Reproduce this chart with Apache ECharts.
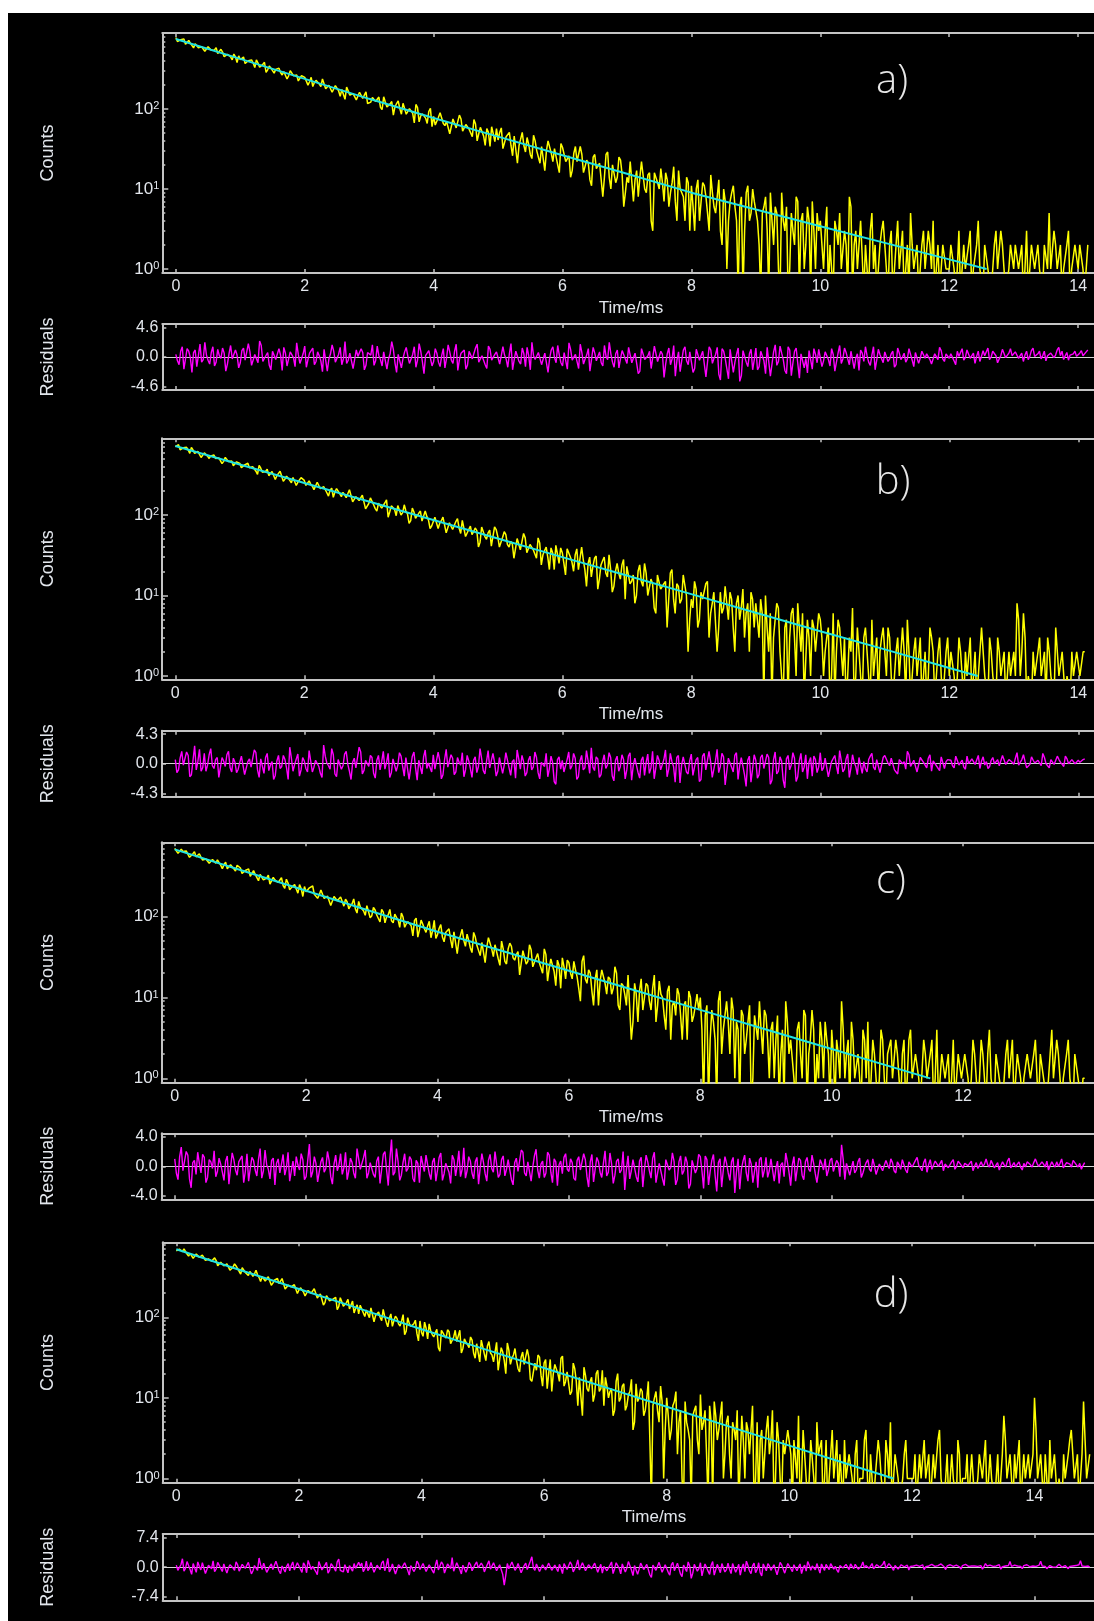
<!DOCTYPE html>
<html>
<head>
<meta charset="utf-8">
<title>Luminescence decays and fit residuals</title>
<script src="https://cdn.jsdelivr.net/npm/echarts@6/dist/echarts.min.js"></script>
<style>
  html, body { margin: 0; padding: 0; background: #ffffff; }
  #chart { width: 1094px; height: 1621px; }
</style>
</head>
<body>
<div id="chart"></div>
<script>
// ---- data ---------------------------------------------------------------
// bin width of the decay histograms (ms); point i sits at t = i * BIN_MS
const BIN_MS = 0.025;

// photon counts per bin (integers, 0 = empty bin); one row = 1 ms
const countsA = [
  783,698,707,735,716,753,646,655,721,665,637,580,655,656,582,595,599,633,527,546,599,567,542,533,548,585,494,467,558,515,450,466,483,491,448,411,486,448,381,462,
  415,435,446,371,361,401,400,411,375,329,410,376,333,342,361,384,287,309,345,324,307,281,313,325,324,286,266,294,291,237,260,302,302,261,255,267,224,227,262,273,
  249,258,199,219,249,191,214,228,225,206,190,237,239,179,185,198,192,162,165,196,195,169,144,175,174,132,188,186,149,146,156,162,130,135,162,168,136,136,164,117,
  120,122,139,147,124,121,141,105,98,142,122,106,103,116,124,84,106,117,126,101,86,118,101,86,89,101,103,88,67,114,104,69,82,87,90,77,66,93,102,60,
  81,63,60,79,90,88,66,62,70,73,49,47,75,71,58,60,84,75,53,51,64,62,56,54,45,74,65,40,49,59,58,46,35,57,51,34,60,49,39,57,
  41,51,58,32,32,45,44,51,35,26,46,44,21,35,42,51,35,29,44,36,27,24,47,40,30,29,21,34,35,17,30,40,38,28,22,32,31,20,16,37,
  33,34,22,22,26,14,17,28,34,22,21,34,27,16,16,23,21,13,11,25,27,18,19,21,22,8,14,27,29,14,10,20,19,12,14,25,23,15,6,9,
  14,12,22,21,7,13,17,8,14,22,22,10,9,15,16,4,3,16,16,12,10,18,12,7,16,13,6,9,12,19,7,4,17,10,9,8,4,14,12,3,
  11,6,3,10,13,4,7,12,11,8,5,3,15,9,6,5,8,13,3,2,10,7,1,4,7,9,11,6,4,0,6,8,0,3,9,11,4,5,10,7,
  7,4,2,0,5,6,8,3,0,9,4,2,6,5,1,0,9,4,3,6,0,1,5,3,2,8,7,0,4,5,1,2,6,4,0,7,3,1,5,3,
  4,2,1,3,6,0,2,1,0,4,3,2,5,1,1,3,2,0,8,6,0,2,3,1,1,4,4,0,2,2,0,3,5,1,2,0,1,2,3,4,
  2,1,0,2,3,0,1,2,4,1,1,3,0,1,2,0,5,2,1,1,2,0,0,2,3,1,1,3,2,1,4,0,1,2,0,1,2,2,1,1,
  1,2,2,1,0,1,3,0,1,2,1,1,2,3,0,1,1,2,4,1,1,0,2,2,1,1,0,1,2,3,1,1,3,2,1,0,0,1,2,2,
  1,2,2,1,1,2,0,1,3,0,1,2,2,1,1,2,1,1,0,2,2,1,5,1,1,3,2,1,1,2,0,1,1,2,3,0,1,1,2,2,
  1,2,2,1,0,1,2
];
const countsB = [
  709,735,746,647,633,684,680,694,645,584,689,643,584,594,618,646,518,546,591,562,539,504,543,559,556,503,476,512,508,436,464,520,517,461,453,468,409,412,458,470,
  438,387,370,420,434,439,386,369,399,380,350,320,415,382,339,340,347,371,308,310,347,330,276,308,316,350,333,263,279,304,287,269,251,292,291,233,255,265,291,278,
  269,233,231,266,242,228,207,205,255,249,212,204,226,217,189,172,203,216,166,193,213,215,184,169,191,188,164,170,206,204,146,141,169,165,151,148,177,170,119,125,
  139,163,168,134,120,112,140,144,122,128,142,154,94,110,130,125,117,98,131,127,100,107,134,112,103,79,85,122,109,91,98,105,112,84,81,112,96,87,68,73,
  76,94,92,68,79,85,94,92,60,58,80,82,66,69,83,90,69,59,86,68,54,51,66,73,57,62,69,64,40,46,71,72,54,50,60,65,41,43,71,66,
  54,40,38,53,62,57,43,40,47,44,29,28,51,52,37,39,59,52,34,33,43,42,37,36,29,52,45,24,32,36,40,30,21,39,34,21,42,33,25,39,
  34,25,18,38,37,30,26,20,32,38,21,22,40,28,21,13,25,30,17,23,29,31,12,16,24,27,30,19,17,32,21,11,13,20,25,19,16,24,28,9,
  23,24,14,15,18,8,10,20,24,15,13,25,19,10,10,16,14,7,6,18,19,12,12,14,15,4,9,19,21,9,6,14,13,8,9,18,17,10,2,5,
  9,7,15,12,4,5,11,9,9,14,15,3,6,8,11,11,2,4,11,6,7,13,8,5,11,9,4,2,8,10,5,7,12,3,6,8,2,11,9,4,
  8,5,3,9,6,0,10,4,2,6,0,3,5,8,7,2,1,0,4,5,0,3,6,7,3,1,8,4,2,6,0,0,5,3,1,5,4,2,2,6,
  5,3,1,2,3,4,0,1,6,0,2,5,4,2,1,3,0,1,3,2,7,0,1,4,2,1,0,3,4,2,2,0,5,1,1,3,0,2,3,4,
  2,1,4,3,1,0,0,2,3,1,1,4,2,0,5,2,0,1,2,3,1,1,3,0,1,2,0,1,4,3,2,0,1,2,3,1,0,1,2,3,
  1,2,2,1,0,1,3,2,1,0,2,1,1,3,0,1,2,0,1,2,4,2,1,1,0,3,2,1,1,0,3,2,1,1,2,0,0,2,1,1,
  2,1,8,5,1,2,6,3,0,1,1,0,2,1,1,2,3,1,1,2,0,3,2,1,1,0,4,2,1,1,2,2,0,1,1,0,2,1,1,2,
  2,1,1,2,2
];
const countsC = [
  700,695,608,609,684,643,617,652,628,543,562,599,639,551,538,601,544,503,491,518,535,460,442,512,488,459,506,467,435,392,441,472,393,415,439,421,391,367,433,423,
  401,343,352,373,363,391,316,324,373,335,318,279,333,335,285,296,301,326,253,267,307,286,271,265,277,304,242,224,291,261,216,229,242,250,220,196,250,224,178,236,
  204,194,228,225,240,189,200,169,186,214,212,168,160,180,181,138,131,178,174,158,150,176,154,135,165,153,125,136,145,166,125,111,155,132,125,118,104,137,132,97,
  103,130,121,105,107,86,123,114,84,100,106,123,89,84,108,98,92,74,111,99,74,82,87,92,77,58,90,96,56,69,91,81,71,64,77,88,55,67,90,54,
  60,72,80,56,49,64,62,71,52,41,65,62,35,51,59,70,51,43,61,51,41,36,64,56,44,42,33,48,50,27,42,55,52,40,32,45,43,30,25,50,
  40,28,26,40,47,43,31,29,34,37,19,18,38,39,26,28,45,39,24,23,31,35,27,26,20,40,34,16,23,30,29,21,14,29,25,13,31,24,17,29,
  27,20,17,28,22,18,13,9,28,33,17,15,22,20,12,8,17,22,8,16,22,23,15,11,18,17,11,13,24,20,8,7,15,14,11,8,19,18,3,5,
  15,11,5,12,17,7,10,15,14,9,7,13,19,5,8,16,11,10,6,4,12,14,3,8,9,6,13,11,6,3,8,9,3,12,10,5,6,8,11,7,
  10,4,0,6,8,0,3,7,5,3,0,9,12,2,4,6,9,5,2,10,7,1,5,4,0,7,6,2,3,5,8,0,1,6,6,3,9,4,2,7,
  6,3,1,4,5,1,3,6,0,2,4,0,9,5,2,3,3,1,0,4,5,2,1,7,6,0,2,3,7,4,0,2,1,5,3,1,5,3,2,0,
  4,2,0,3,2,1,9,4,1,2,3,0,5,3,1,1,2,2,0,4,3,1,5,0,1,3,2,2,0,1,4,3,1,0,2,2,3,1,1,3,
  2,1,0,2,3,0,1,3,4,1,1,2,2,1,0,0,3,2,1,1,2,3,0,1,4,0,1,2,2,1,1,2,0,1,3,0,1,2,2,1,
  1,2,2,1,0,1,3,2,1,0,1,3,2,1,0,2,4,1,1,0,2,2,1,1,0,1,2,3,1,1,3,0,1,2,2,1,0,1,1,2,
  2,1,1,2,3,1,0,2,2,1,1,0,1,2,4,1,1,3,2,1,0,1,1,2,3,1,1,0,2,2,1,1,0,1,1
];
const countsD = [
  666,649,699,685,651,704,681,609,573,619,618,538,567,611,603,555,554,590,592,508,491,529,516,497,481,547,505,435,415,481,492,434,435,460,443,384,382,419,460,433,
  409,372,343,412,404,360,357,330,370,389,323,345,384,337,311,278,319,331,282,299,318,324,250,265,288,287,304,262,252,302,260,224,226,250,264,238,229,254,263,197,
  218,232,243,206,184,179,215,216,199,194,226,224,173,168,195,186,142,152,186,185,160,152,167,165,177,124,136,175,156,137,135,152,167,127,134,159,113,129,143,110,
  141,135,114,102,123,122,99,131,134,88,105,111,116,100,91,125,102,87,76,97,110,77,91,103,97,83,78,90,108,61,67,99,84,77,73,83,92,63,51,90,
  65,58,87,73,54,83,68,61,57,64,71,42,38,69,64,59,55,70,66,47,45,57,69,50,48,69,36,41,54,49,46,42,57,52,36,31,47,45,28,52,
  43,35,29,44,50,36,34,28,37,49,22,30,42,37,29,20,48,39,26,31,34,41,29,23,21,32,37,26,25,40,32,17,16,21,27,22,34,32,19,14,
  27,30,13,20,30,12,20,26,25,20,16,31,33,14,16,21,20,11,12,27,23,16,8,18,19,6,24,19,13,12,16,18,9,11,20,22,12,13,22,8,
  18,14,10,12,13,6,7,16,20,9,10,14,15,7,8,11,12,17,4,5,15,9,10,13,12,6,7,10,16,3,0,8,10,12,7,5,14,9,1,4,
  10,6,3,4,8,9,12,2,5,7,1,0,9,5,4,3,0,6,7,8,3,2,11,4,5,7,2,0,8,5,0,9,6,3,4,6,9,1,2,5,
  6,2,1,5,4,3,7,0,0,6,3,1,5,4,2,2,8,0,1,5,0,3,4,1,2,4,6,2,3,7,0,1,5,3,1,0,3,2,2,4,
  4,2,0,3,3,1,6,0,1,4,2,2,0,1,3,3,1,0,5,2,2,3,0,1,3,0,1,2,4,1,1,3,0,2,2,0,3,1,1,2,
  2,1,0,2,3,0,1,1,1,3,4,1,0,2,2,0,1,1,3,2,1,1,0,3,2,1,5,0,1,2,2,1,0,0,1,2,3,1,1,1,
  1,1,2,0,0,2,1,1,3,1,1,2,0,0,2,1,1,3,4,1,1,0,1,2,0,1,2,1,1,0,3,2,0,1,1,1,2,0,1,2,
  1,0,0,1,2,2,1,1,3,0,1,2,1,1,0,1,2,0,1,2,6,3,1,1,2,1,0,2,1,1,3,0,1,2,1,1,2,1,1,2,
  10,4,1,1,2,1,0,2,1,0,3,1,1,2,2,0,1,1,0,2,1,1,2,3,4,2,1,1,2,0,1,2,9,3,1,1,2
];

// weighted residuals of the fits, same bins as the counts
const residA = [
  0.4,-0.6,-1.2,0.9,1.6,-1.9,-0.3,1.3,0.9,-0.1,-2.4,0.7,1.1,-1.5,0.2,2.0,-0.8,-0.4,2.3,0.3,-0.5,-1.1,0.7,1.6,-1.4,-0.8,1.2,0.2,-0.2,1.4,0.6,-2.2,-1.1,0.5,1.8,-0.3,-0.6,1.1,0.3,-1.7,
  -0.9,1.0,1.4,-0.5,-0.2,2.1,0.8,-1.3,-1.6,0.4,0.5,-0.9,2.5,1.8,-0.7,-0.2,0.1,0.7,-1.3,-2.0,0.9,1.2,-0.4,-0.6,1.3,0.3,-2.1,1.5,0.6,-1.4,-0.3,0.8,1.0,-0.1,-1.5,2.2,0.4,-1.0,-0.8,0.5,
  1.7,-1.6,-0.4,0.6,0.3,1.4,-1.2,-0.7,0.8,0.2,-0.6,-2.3,1.2,1.0,-2.2,-0.3,0.5,1.9,0.9,-0.8,-0.7,0.4,1.5,-1.2,-0.3,2.4,-1.0,-0.5,0.6,0.9,-1.8,-1.5,1.1,0.1,-0.2,1.3,0.7,-2.0,-1.3,0.7,
  0.5,0.3,1.9,-1.3,-0.6,1.7,0.2,-0.4,-1.4,0.8,1.0,-1.9,-0.3,0.5,2.4,1.2,-0.9,-2.4,0.4,0.6,-1.7,-0.2,0.8,1.5,0.1,-1.0,-1.1,0.4,1.6,-1.6,-0.5,2.1,0.9,-0.7,-2.6,0.2,0.3,1.0,1.2,-1.4,
  -0.7,1.3,0.6,-0.8,-1.5,0.2,1.3,-1.7,-0.2,1.9,0.8,-0.5,-1.0,0.9,2.0,-2.1,-0.4,0.6,0.5,1.1,-1.9,-1.3,0.9,0.3,-0.3,-0.6,1.4,2.0,-0.8,-0.9,0.2,0.4,-1.2,-1.8,1.7,1.2,-0.5,-0.2,0.4,0.8,
  1.1,-1.1,-0.9,1.6,0.3,-0.3,-1.6,0.5,2.1,-2.0,-0.4,0.9,0.7,-0.7,-1.1,1.4,0.5,-1.5,1.5,0.2,-2.0,2.3,0.2,-0.4,-0.6,0.7,1.0,-1.2,-1.3,0.6,0.8,-2.4,-0.2,1.1,1.6,-0.1,-0.9,1.8,0.3,-0.9,
  -1.4,0.7,0.9,-1.9,2.2,1.2,-0.5,-0.5,0.4,0.4,-1.8,2.0,0.7,-1.1,-0.3,0.3,1.3,-2.2,-2.5,1.5,0.6,-0.6,0.1,0.8,-0.9,-1.4,1.8,0.1,-0.4,2.3,0.5,-0.8,-1.6,0.5,1.1,-1.7,-0.2,1.0,0.8,-0.3,
  -1.0,1.5,1.5,-0.9,-0.6,0.6,0.3,-2.6,-2.2,1.3,1.2,-0.4,-0.1,0.2,0.9,-1.8,-1.5,1.7,2.0,-0.7,-0.7,0.9,0.4,-3.2,-1.1,0.5,1.4,-1.2,-0.3,1.8,-3.0,-0.5,0.8,-2.3,-0.5,1.1,1.6,-0.6,-1.2,0.8,
  0.6,-2.4,-1.8,1.2,1.3,-0.5,-0.4,0.9,0.7,-3.1,-2.8,1.6,1.1,-1.0,-0.2,0.4,1.5,-2.7,-3.6,1.3,0.9,-0.3,-0.6,-3.4,1.2,1.0,-2.4,-0.8,0.4,1.4,-3.8,-2.9,1.0,0.7,-0.8,-1.5,0.5,1.2,-2.0,-0.4,
  1.4,-2.0,-1.5,0.9,0.8,-0.6,-2.6,1.5,1.2,-3.0,-3.2,0.8,1.9,-1.3,-0.7,1.7,0.6,-0.4,-2.1,-2.6,1.6,1.1,-2.9,-0.9,0.9,1.4,-1.0,-3.3,0.5,0.6,-1.7,-0.2,-2.5,1.0,1.1,-1.9,1.3,0.4,-0.9,1.2,
  1.5,-1.5,-0.6,0.8,1.0,-0.4,-1.4,1.3,0.4,-2.2,-2.4,0.6,1.8,-1.0,-0.3,1.4,0.7,-0.3,-1.2,0.9,1.1,-1.8,-0.2,0.5,-2.1,1.1,0.6,-0.7,1.6,0.2,-0.8,-1.3,0.3,1.6,-2.0,-0.5,1.2,0.4,0.2,-0.9,
  0.8,1.1,-0.7,-0.3,0.5,0.9,-1.6,-1.2,1.4,0.6,-0.4,0.0,0.6,-0.8,-0.3,1.3,1.0,-0.5,-1.5,0.7,0.4,-1.0,-0.2,0.9,1.2,-0.2,0.5,0.8,-0.4,-1.1,-1.4,0.5,0.6,-0.4,1.5,1.0,-0.3,-0.7,0.5,0.6,
  -0.2,0.5,0.7,-0.6,-1.2,0.9,0.1,0.2,1.3,-0.5,-0.1,1.1,0.8,-0.2,0.0,0.6,-1.0,0.1,0.9,-0.7,0.1,1.0,0.2,0.3,1.4,-0.4,0.0,0.9,0.8,0.2,-0.9,-0.3,0.2,1.2,0.9,-0.1,0.1,0.6,1.3,0.2,
  0.1,0.8,0.8,-0.2,0.2,0.6,-0.7,0.3,0.9,-0.4,0.1,1.0,1.4,0.1,0.2,0.5,0.9,-0.3,0.2,0.9,-0.6,0.2,0.2,0.6,0.9,-0.1,0.3,1.1,1.5,0.2,0.9,-0.4,0.2,0.7,-0.5,0.3,0.3,0.5,0.9,0.1,
  0.3,0.6,1.0,0.2,0.4,0.8,1.1
];
const residB = [
  0.6,-1.3,-0.9,0.8,1.8,-0.2,-0.4,1.7,1.2,-1.9,-1.6,0.5,2.6,-0.9,0.3,2.1,-1.1,-0.6,1.5,-1.1,-0.2,1.3,2.2,-0.3,-0.7,0.6,0.9,-2.0,-1.8,0.9,0.4,-0.4,1.3,1.8,-0.6,-1.2,0.8,0.2,-1.3,-0.8,
  0.2,1.1,1.1,-1.6,-1.5,0.3,0.7,-0.5,-0.3,2.0,1.6,-0.9,-2.0,0.7,0.5,-1.4,0.9,1.5,-1.0,-0.2,0.3,-2.3,-1.7,0.4,1.2,-0.7,-0.4,1.2,0.6,-0.6,-2.3,2.4,0.8,-1.1,-0.1,0.1,1.4,-1.8,-0.9,0.9,
  0.4,-0.7,-1.2,1.9,1.9,-1.2,-0.5,0.5,0.7,-0.4,-1.4,-2.0,2.7,1.1,0.1,-0.3,-0.8,2.2,1.3,-1.5,-1.9,0.6,0.6,-0.8,-0.3,1.4,1.8,-0.1,-1.1,-2.3,0.2,0.8,-0.6,-0.5,2.4,1.7,-1.5,-1.0,0.5,0.3,
  -0.4,1.2,0.9,-1.4,-2.1,0.5,1.2,-0.9,0.3,1.8,-0.8,0.2,1.5,-2.0,-1.3,0.7,0.6,-1.1,-0.2,1.6,1.1,-0.4,-1.8,0.9,0.8,-2.3,-0.5,1.1,1.7,-0.6,-2.4,0.5,0.4,-1.5,1.0,2.0,-0.7,0.1,0.3,-1.2,
  1.3,-0.8,-1.0,1.7,0.5,-2.2,-1.6,0.6,2.1,-0.5,-0.3,1.3,0.8,-1.6,-1.2,0.9,0.2,-0.2,1.6,-1.9,-0.9,1.2,0.4,-0.7,-2.0,0.5,1.0,-1.3,-0.4,2.2,0.7,-1.0,-1.5,0.3,1.9,-0.6,-0.6,1.5,0.2,-1.8,
  -1.1,0.9,0.8,-1.4,-0.2,1.6,1.4,-0.6,-1.7,0.3,0.6,-2.1,2.0,0.7,-0.8,1.2,0.3,-1.8,-1.3,0.5,1.1,-0.9,-0.5,1.7,0.9,-1.3,-2.2,0.2,0.4,-0.4,1.5,-1.9,-0.7,1.1,0.2,-2.6,-3.0,0.6,1.0,-0.8,
  0.5,-1.2,-1.4,0.6,1.7,-0.8,-0.3,1.5,0.8,-2.3,-1.9,0.4,1.2,-0.9,-0.6,1.9,0.4,-1.4,2.3,-0.5,-1.0,1.0,0.7,-2.0,-1.6,0.3,1.3,-0.7,-0.2,1.6,0.9,-1.8,-2.5,0.5,1.1,-1.1,-0.4,1.3,0.6,-2.2,
  -0.9,1.1,1.6,-2.4,-0.3,0.8,0.7,-1.3,-2.1,0.5,1.0,-1.7,0.2,1.4,-1.4,-0.6,1.8,-2.2,-0.6,1.2,0.5,-0.9,-1.1,0.6,2.0,-1.9,-0.8,1.5,0.3,-0.4,-2.7,0.9,1.2,-2.8,-0.2,1.0,0.8,-1.2,-1.5,0.4,
  1.4,-1.7,-0.5,0.6,0.9,-2.6,-2.3,1.1,1.5,-0.9,-0.7,1.8,0.3,-2.0,-1.8,0.4,2.1,-1.3,-0.4,1.5,1.0,-3.1,-2.9,0.8,0.6,-0.5,-1.2,1.2,1.6,-2.3,-0.3,0.9,0.7,-1.6,-3.3,0.5,1.1,-2.7,-0.8,1.3,
  0.5,-2.1,-1.6,0.9,1.3,-0.7,-0.6,1.4,0.9,-3.0,-2.4,0.6,1.7,-1.5,-1.1,1.0,0.4,-2.4,-3.5,0.7,1.2,-0.9,-0.2,1.6,0.8,-2.6,-1.9,0.4,1.5,-1.2,-0.5,1.3,-2.2,0.2,0.9,-1.8,1.1,0.6,-1.3,-0.5,
  1.6,-1.0,-0.6,0.8,1.0,-1.9,-1.7,0.3,0.5,1.2,-0.3,-1.5,1.9,0.5,-1.2,-0.8,0.7,1.4,-2.0,-0.6,1.3,0.2,-0.4,-1.6,0.9,0.7,-1.4,0.3,-0.7,-1.2,0.6,1.1,1.5,-0.5,-0.9,0.6,0.4,-1.3,-1.1,0.9,
  1.2,1.1,0.1,-0.3,0.8,0.9,-0.9,-1.2,-1.5,0.6,0.7,0.0,0.3,-0.8,1.8,1.3,-0.4,-0.5,0.5,0.7,-1.2,-1.0,0.9,0.9,0.2,-0.2,-0.6,0.8,1.3,-1.1,0.4,0.5,-0.3,-0.4,-1.0,1.0,0.8,-0.7,0.3,0.6,
  0.6,0.5,-0.3,-0.6,1.1,0.9,-0.2,0.2,0.5,-0.5,-0.8,1.1,0.0,-0.2,0.7,0.6,-0.1,0.1,1.2,-0.7,0.4,1.0,-0.2,0.3,-0.7,-0.4,0.5,0.9,0.0,0.2,0.6,-0.3,-0.1,1.2,1.0,-0.1,0.1,0.6,0.5,0.2,
  -0.1,0.8,1.6,-0.2,0.0,0.6,1.3,0.3,-0.6,-0.4,-0.1,1.0,0.5,0.1,0.0,0.5,0.6,-0.3,1.5,0.9,0.0,0.2,-0.6,0.6,0.5,-0.1,0.0,1.1,0.6,0.2,-0.1,-0.4,1.1,0.7,0.0,0.3,0.6,0.5,0.0,0.1,
  0.5,0.2,0.1,0.6,0.7
];
const residC = [
  1.0,-0.9,-1.8,1.3,2.6,-0.6,-0.4,2.0,1.5,-1.7,-2.9,0.5,0.8,-1.1,1.9,0.4,-0.9,1.6,1.2,-2.2,-1.5,0.9,0.6,-0.3,2.1,-1.4,-0.7,1.1,0.3,-0.8,-1.9,0.7,1.4,-2.4,-0.2,1.8,0.9,-0.5,-1.2,0.6,
  0.5,1.4,-2.2,-0.7,1.7,-2.0,-0.3,1.2,0.8,-0.5,-1.3,0.9,2.4,-1.6,-0.6,2.2,0.2,-0.4,-1.7,0.8,1.1,-2.5,0.4,1.0,-0.9,0.3,1.6,-1.2,-0.2,1.9,-2.0,-0.6,0.7,-1.3,1.3,0.2,-0.5,1.7,0.9,-1.8,
  -1.4,0.8,3.0,-1.5,-0.7,1.3,0.4,-2.1,-1.9,0.6,1.2,-0.8,-0.3,2.0,0.8,-1.4,-2.4,0.3,1.5,-0.6,0.2,1.7,-1.1,-0.2,1.9,-1.8,-0.6,1.1,0.5,-0.9,-1.6,2.4,1.0,-0.4,-0.2,1.2,2.2,-1.6,-0.9,0.5,
  0.3,-1.1,-1.5,0.7,1.3,-2.3,-0.4,1.6,2.0,-0.5,-2.6,1.0,3.6,-1.2,-0.8,2.4,0.6,-1.9,-1.2,0.5,1.7,-0.7,-0.3,1.3,0.9,-1.6,-2.1,0.8,0.4,-2.2,1.4,0.3,-0.7,1.5,0.2,-1.0,-1.8,0.6,1.1,-2.0,
  -0.5,1.2,1.8,-1.9,-1.0,0.4,0.6,-0.8,-2.3,1.5,0.9,-1.3,0.1,2.1,-1.4,-0.4,2.5,-1.6,-0.6,1.3,0.7,-0.9,-1.7,0.6,1.2,-2.4,-0.2,1.7,0.5,-1.0,-2.0,0.8,1.6,-0.3,-0.8,2.0,0.3,-1.5,-1.1,0.9,
  1.4,-1.3,-0.4,0.9,0.8,-1.8,-2.5,0.5,1.1,-0.7,-0.6,2.2,1.9,-0.9,-1.3,0.6,0.4,-2.0,-0.1,1.4,2.3,-0.5,-1.6,0.3,0.7,-1.5,-0.9,1.9,1.5,-0.8,-2.2,1.0,0.6,-2.6,0.2,0.7,-1.0,1.2,1.7,-0.4,
  -0.7,1.0,0.5,-1.6,-1.9,0.8,1.3,-0.5,-0.3,1.7,0.9,-1.4,-2.8,0.6,1.6,-2.1,-0.4,1.2,0.6,-0.8,-1.5,0.4,2.1,-1.3,-0.8,1.8,0.3,-2.3,-1.2,0.7,1.0,-0.9,-0.5,2.0,-3.2,-0.4,1.4,-1.7,-0.6,0.9,
  0.8,-1.4,-2.1,0.7,1.2,-2.8,-0.4,1.5,0.6,-0.6,-1.6,1.1,1.9,-2.2,-0.9,0.4,0.3,-1.7,-2.6,0.9,1.1,-0.5,-0.2,1.8,0.7,-2.5,-1.8,0.6,1.4,-1.1,-0.6,1.3,0.5,-3.0,-2.4,0.8,1.0,-0.9,-0.3,1.6,
  1.3,-0.6,-3.0,1.4,0.9,-2.5,-0.7,0.8,1.6,-1.2,-3.4,0.5,1.0,-2.8,-0.5,1.3,0.4,-0.9,-1.9,0.6,1.2,-3.6,-0.8,1.0,-3.1,-0.4,0.7,1.5,-0.9,-2.0,1.1,0.3,-2.2,-0.7,0.6,-2.9,0.9,1.2,-1.5,-0.5,
  1.2,-1.5,-0.6,1.0,0.9,-2.0,-0.3,0.7,-2.3,0.2,0.5,-1.4,1.8,0.6,-0.8,-2.6,0.2,1.3,-2.0,-0.3,1.1,0.8,-1.2,-1.8,0.6,1.2,-0.4,-0.7,1.5,0.4,-1.0,-2.2,-2.1,0.9,0.3,-0.5,1.0,-1.3,-0.5,0.8,
  1.1,-0.7,-0.9,0.8,0.4,-1.4,2.9,0.9,-1.8,0.4,0.3,-1.2,-0.2,0.7,-0.9,-0.5,0.6,1.1,-1.5,-0.9,-0.1,0.5,0.9,-0.4,-0.7,1.0,0.1,-1.1,-1.3,0.3,0.5,-0.6,-0.8,0.8,0.2,-0.3,1.0,0.5,-0.6,-0.9,
  0.6,0.2,-0.4,0.9,1.0,-0.5,-0.9,0.6,0.4,-0.1,-0.3,0.8,1.2,0.1,-0.2,-0.6,0.5,1.0,-0.8,0.2,0.9,-0.4,-0.3,0.7,0.5,0.0,-0.2,0.8,-0.6,0.3,0.4,-0.2,-0.3,0.6,0.9,-0.4,0.0,0.7,0.4,0.1,
  -0.2,0.4,0.6,0.1,-0.1,0.7,-0.6,0.0,0.5,-0.3,-0.1,0.6,0.0,0.3,1.0,0.2,-0.1,0.8,0.6,-0.2,-0.1,0.5,-0.5,0.1,0.6,0.2,-0.1,0.7,1.1,-0.2,0.0,0.5,-0.1,0.3,0.6,-0.1,-0.5,0.4,-0.1,0.6,
  0.6,0.2,-0.1,0.5,1.0,0.4,0.0,-0.2,0.6,0.3,-0.1,0.7,-0.5,0.1,0.6,0.2,-0.1,0.6,0.0,0.4,1.0,-0.2,0.0,0.5,0.6,0.3,-0.1,0.8,0.6,0.2,-0.1,0.4,-0.4,0.1,0.5
];
const residD = [
  0.5,-0.8,-1.2,0.6,2.1,-1.0,-0.3,1.4,0.9,-0.6,-1.8,0.9,0.4,-1.3,1.3,0.2,-0.7,1.1,0.8,-1.6,-1.4,0.5,0.2,-0.4,1.6,-1.1,-0.5,1.2,0.7,-0.3,-1.1,0.8,0.3,-1.5,-0.2,0.6,1.0,-0.2,-0.8,1.3,
  0.6,-1.0,-1.5,0.7,0.9,-0.3,-0.4,1.2,1.4,-1.7,-0.9,0.4,0.3,-0.8,2.3,0.6,-0.6,1.0,0.5,-1.3,-1.2,0.2,0.8,-0.6,-0.3,1.5,1.1,-0.9,-1.6,0.3,0.4,-1.2,0.2,0.9,-0.9,0.4,1.3,-0.7,-0.5,1.1,
  0.8,-0.5,-1.3,1.1,0.4,-1.4,1.7,0.6,-0.6,0.2,0.3,-1.1,-1.9,1.4,0.9,-0.7,-0.2,0.5,1.2,-1.5,-0.8,0.9,0.5,-0.2,-1.0,1.3,2.0,-0.8,-0.4,-1.2,0.6,0.7,-1.4,0.4,0.3,-1.0,0.9,-0.3,-0.7,1.2,
  0.2,1.0,-1.1,-0.4,1.5,-0.9,-0.3,1.2,0.7,-1.3,-1.6,0.5,0.4,-0.6,1.0,1.6,-0.9,0.3,2.2,-1.2,-0.5,0.8,0.3,-1.7,-1.3,0.6,0.8,-0.3,-0.2,1.1,1.4,-0.8,-2.0,0.4,0.6,-1.1,-0.4,1.5,0.9,-0.6,
  -0.6,0.9,1.2,-1.1,-0.2,0.6,0.5,-0.8,-1.5,0.4,1.8,-0.7,-0.4,1.3,0.7,-1.5,-1.1,0.8,0.3,-0.4,2.4,-1.0,-0.8,1.1,0.2,-0.6,-1.7,0.5,0.9,-1.3,-0.3,1.2,0.6,-0.9,-1.2,0.7,1.3,-0.2,-0.5,1.0,
  0.4,-1.2,-0.9,0.7,1.6,-0.5,-0.3,1.1,0.8,-0.9,-1.4,0.6,0.2,-1.8,-4.5,-2.0,0.9,-0.4,-0.6,1.3,1.2,-0.8,-0.2,0.9,0.5,-1.4,-1.3,0.4,1.0,-0.6,-0.4,1.5,2.6,-0.2,-0.8,0.8,0.3,-1.1,-1.0,0.6,
  0.9,-0.7,-0.5,1.0,1.4,-0.8,-1.2,0.5,0.3,-1.1,0.7,-0.3,-1.6,0.9,1.1,-0.6,-0.3,1.3,0.6,-1.2,-1.0,0.4,1.8,-0.7,-0.4,1.1,0.2,-0.9,-1.3,0.6,0.8,-0.4,-0.6,1.0,1.2,-1.3,-0.2,0.7,-1.5,0.2,
  0.6,-0.9,-1.1,0.5,1.3,-1.6,-0.4,1.1,0.9,-0.3,-1.7,0.8,0.5,-1.2,-0.2,1.4,1.0,-0.7,-2.1,0.4,0.7,-1.8,-0.5,1.0,1.5,-0.6,-0.9,0.7,0.3,-1.9,-2.6,0.5,0.8,-0.8,-0.3,1.2,1.1,-1.3,-1.4,0.6,
  0.5,-1.3,-2.0,0.6,1.2,-0.9,-0.6,1.0,0.8,-1.7,-2.4,0.5,0.4,-1.1,1.3,0.3,-2.8,-1.5,0.7,1.2,-1.0,-0.4,1.1,-2.2,-0.5,0.8,0.6,-1.0,-1.8,0.5,1.4,-2.0,-2.5,0.7,0.3,-1.4,0.9,0.4,-1.2,-0.6,
  1.0,-0.5,-1.6,0.9,0.6,-1.3,-0.4,0.7,-2.0,-0.2,0.8,-1.1,1.5,0.4,-0.9,-1.6,0.3,1.0,-1.4,-0.6,1.1,-1.4,-2.2,0.8,0.5,-0.9,0.9,0.3,-0.8,-1.2,0.6,1.1,-1.9,-0.4,1.2,0.6,0.2,-1.5,-1.0,0.9,
  1.3,-0.4,-1.1,0.6,0.7,-0.9,0.0,0.8,-1.6,-0.2,0.5,-1.0,1.4,0.5,-0.8,0.3,0.1,-0.7,0.9,-0.3,-1.5,0.8,0.3,-0.8,0.7,0.2,-0.6,0.9,1.2,-0.5,0.2,-0.7,-1.3,0.4,0.6,-0.2,-0.3,0.7,0.4,-0.6,
  0.8,0.2,-0.4,0.7,0.5,-0.5,-0.9,0.3,1.3,-0.2,0.4,0.8,-0.3,0.1,0.9,-0.4,-0.8,0.6,0.4,0.0,-0.2,0.7,1.5,-0.3,-0.3,0.9,0.5,-0.1,-0.8,0.4,0.9,-0.5,-0.2,0.6,0.5,0.1,-0.1,0.5,-0.7,0.2,
  0.6,0.3,-0.1,0.5,0.9,0.2,0.0,0.6,-0.6,0.1,0.5,0.3,-0.1,0.7,1.2,0.2,0.0,0.4,0.0,0.8,0.5,0.1,-0.6,0.3,0.0,0.6,0.9,0.2,0.0,0.5,0.5,0.1,-0.5,0.4,0.0,0.7,0.5,0.2,0.0,0.3,
  0.0,0.3,0.5,0.2,0.0,0.4,-0.5,0.1,0.9,0.3,0.0,0.5,0.5,0.2,0.0,0.3,0.0,0.6,-0.5,0.1,0.5,0.3,0.0,0.4,1.4,0.2,0.0,0.5,0.5,0.3,0.0,0.2,-0.4,0.4,0.0,0.6,0.8,0.1,0.0,0.3,
  0.4,0.2,0.0,0.5,1.5,0.3,0.0,0.2,-0.4,0.1,0.4,0.3,0.0,0.4,0.0,0.2,0.7,0.3,0.0,0.5,0.4,0.1,-0.4,0.2,0.0,0.3,0.4,0.4,0.0,0.6,1.6,0.3,0.0,0.2,0.4,0.3,0.0
];

// fitted decay curves (time in ms, counts)
const fitTimeA = [0,1,2,3,4,5,6,7,8,9,10,11,12,12.58];
const fitA     = [750,423,238,134,77.3,45.2,26.4,15.5,9.0,5.53,3.42,2.12,1.32,1.0];
const fitTimeB = [0,1,2,3,4,5,6,7,8,9,10,11,12,12.44];
const fitB     = [720,424,250,147,86.6,51,30,17.7,10.4,6.1,3.6,2.14,1.26,1.0];
const fitTimeC = [0,1,2,3,4,5,6,7,8,9,10,11,11.5];
const fitC     = [682,378,210,116,65.3,37.4,21.4,12.3,7.03,4.03,2.31,1.32,1.0];
const fitTimeD = [0,1,2,3,4,5,6,7,8,9,10,11,11.7];
const fitD     = [698,395,224,127,71.1,40.8,23.5,13.5,7.76,4.46,2.56,1.47,1.0];

// tick labels
const panelLetters = ['a)', 'b)', 'c)', 'd)'];
const timeTicksFull  = [0,2,4,6,8,10,12,14];
const timeTicksShort = [0,2,4,6,8,10,12];
const residLimits = [4.6, 4.3, 4.0, 7.4];   // labelled +/- residual levels
const decadeExponents = [0, 1, 2];          // 10^0, 10^1, 10^2
const minorMultipliers = [2,3,4,5,6,7,8,9];

// ---- layout & style -------------------------------------------------------
const FRAME = '#c4c4c4';
const TEXT = '#e2e6ec';
const FONT = '"Liberation Sans", Arial, sans-serif';
const ZERO_DRAW = 0.5;   // empty bins are drawn below the log-axis floor

const layout = [
  { left: 162.3, xMin: -0.21,  xMax: 14.3,  ppm: 64.45, top: 33,     h: 240,   logMin: -0.05,  logMax: 2.95,  rTop: 324,    rH: 66,   rMax: 5.15, ticks: timeTicksFull,  letterX: 892, letterY: 82,   titleX: 631 },
  { left: 162.0, xMin: -0.206, xMax: 14.3,  ppm: 64.5,  top: 438.3,  h: 241,   logMin: -0.041, logMax: 2.953, rTop: 730.7,  rH: 66,   rMax: 4.8,  ticks: timeTicksFull,  letterX: 893, letterY: 483,  titleX: 631 },
  { left: 161.7, xMin: -0.198, xMax: 14.05, ppm: 65.7,  top: 842.3,  h: 240.4, logMin: -0.054, logMax: 2.921, rTop: 1133.3, rH: 66,   rMax: 4.45, ticks: timeTicksShort, letterX: 891, letterY: 882,  titleX: 631 },
  { left: 162.7, xMin: -0.222, xMax: 15.05, ppm: 61.3,  top: 1242.3, h: 240.4, logMin: -0.052, logMax: 2.93,  rTop: 1534,   rH: 66.3, rMax: 8.3,  ticks: timeTicksFull,  letterX: 891, letterY: 1296, titleX: 654 }
];

const countSets = [countsA, countsB, countsC, countsD];
const residSets = [residA, residB, residC, residD];
const fitTimes  = [fitTimeA, fitTimeB, fitTimeC, fitTimeD];
const fitSets   = [fitA, fitB, fitC, fitD];

const minorLog = [];
decadeExponents.forEach(e => minorMultipliers.forEach(m => minorLog.push(Math.log10(m) + e)));

const frameLine = { show: true, onZero: false, lineStyle: { color: FRAME, width: 2 } };
const tickStyle = { color: FRAME, width: 1.5 };

const grids = [], xAxes = [], yAxes = [], series = [], graphics = [];

layout.forEach((L, p) => {
  const width = (L.xMax - L.xMin) * L.ppm;
  const gDecay = grids.length;
  grids.push({ left: L.left, top: L.top, width: width, height: L.h, containLabel: false, outerBoundsMode: 'none' });
  const gRes = grids.length;
  grids.push({ left: L.left, top: L.rTop, width: width, height: L.rH, containLabel: false, outerBoundsMode: 'none' });

  // x axes: bottom (data + labels on decay panel) and top (frame with ticks)
  const xBottom = (g, labels) => ({
    type: 'value', gridIndex: g, position: 'bottom', min: L.xMin, max: L.xMax,
    axisLine: frameLine,
    axisTick: { show: true, inside: true, length: 4, customValues: L.ticks, lineStyle: tickStyle },
    axisLabel: { show: labels, customValues: L.ticks, color: TEXT, fontSize: 16, fontFamily: FONT, margin: 6 },
    splitLine: { show: false }
  });
  const xTop = g => ({
    type: 'value', gridIndex: g, position: 'top', min: L.xMin, max: L.xMax,
    axisLine: frameLine,
    axisTick: { show: true, inside: true, length: 4, customValues: L.ticks, lineStyle: tickStyle },
    axisLabel: { show: false }, splitLine: { show: false }
  });
  const xDecay = xAxes.length; xAxes.push(xBottom(gDecay, true));
  xAxes.push(xTop(gDecay));
  const xRes = xAxes.length; xAxes.push(xBottom(gRes, false));
  xAxes.push(xTop(gRes));

  // y axes of the decay panel: log axis for the data, two helpers for ticks
  const yLog = yAxes.length;
  yAxes.push({
    type: 'log', logBase: 10, gridIndex: gDecay, position: 'left',
    min: Math.pow(10, L.logMin), max: Math.pow(10, L.logMax),
    axisLine: frameLine, axisTick: { show: false }, axisLabel: { show: false }, splitLine: { show: false }
  });
  yAxes.push({
    type: 'value', gridIndex: gDecay, position: 'left', min: L.logMin, max: L.logMax,
    axisLine: { show: false, onZero: false },
    axisTick: { show: true, inside: true, length: 6, customValues: decadeExponents, lineStyle: tickStyle },
    axisLabel: {
      show: true, customValues: decadeExponents, margin: 3,
      formatter: v => '{b|10}{s|' + Math.round(v) + '}',
      rich: {
        b: { color: TEXT, fontSize: 17, fontFamily: FONT, verticalAlign: 'bottom' },
        s: { color: TEXT, fontSize: 11, fontFamily: FONT, verticalAlign: 'top' }
      }
    },
    splitLine: { show: false }
  });
  yAxes.push({
    type: 'value', gridIndex: gDecay, position: 'left', min: L.logMin, max: L.logMax,
    axisLine: { show: false, onZero: false },
    axisTick: { show: true, inside: true, length: 3, customValues: minorLog, lineStyle: tickStyle },
    axisLabel: { show: false }, splitLine: { show: false }
  });

  // residual y axis
  const lim = residLimits[p];
  const yRes = yAxes.length;
  yAxes.push({
    type: 'value', gridIndex: gRes, position: 'left', min: -L.rMax, max: L.rMax,
    axisLine: frameLine,
    axisTick: { show: true, inside: true, length: 4, customValues: [-lim, 0, lim], lineStyle: tickStyle },
    axisLabel: {
      show: true, customValues: [-lim, 0, lim], margin: 4,
      formatter: v => v.toFixed(1), color: TEXT, fontSize: 16, fontFamily: FONT
    },
    splitLine: { show: false }
  });

  // decay histogram
  series.push({
    type: 'line', xAxisIndex: xDecay, yAxisIndex: yLog,
    data: countSets[p].map((c, i) => [+(i * BIN_MS).toFixed(3), c > 0 ? c : ZERO_DRAW]),
    symbol: 'none', showSymbol: false, clip: true, silent: true, animation: false, z: 3,
    lineStyle: { color: '#ffff00', width: 1.5 }
  });
  // fitted curve
  series.push({
    type: 'line', xAxisIndex: xDecay, yAxisIndex: yLog,
    data: fitTimes[p].map((t, i) => [t, fitSets[p][i]]),
    symbol: 'none', showSymbol: false, clip: true, silent: true, animation: false, z: 4,
    lineStyle: { color: '#1fe3e3', width: 2 }
  });
  // residuals with zero reference line underneath
  series.push({
    type: 'line', xAxisIndex: xRes, yAxisIndex: yRes,
    data: residSets[p].map((r, i) => [+(i * BIN_MS).toFixed(3), r]),
    symbol: 'none', showSymbol: false, clip: true, silent: true, animation: false, z: 3,
    lineStyle: { color: '#ff00ff', width: 1.4 },
    markLine: {
      silent: true, symbol: 'none', z: 1, animation: false,
      label: { show: false },
      lineStyle: { color: '#d4d4d4', width: 1, type: 'solid' },
      data: [{ yAxis: 0 }]
    }
  });

  // texts
  graphics.push({
    type: 'text', x: 48.5, y: L.top + L.h / 2, rotation: Math.PI / 2, silent: true,
    style: { text: 'Counts', fill: TEXT, font: '18px ' + FONT, align: 'center', verticalAlign: 'middle' }
  });
  graphics.push({
    type: 'text', x: 48.5, y: L.rTop + L.rH / 2, rotation: Math.PI / 2, silent: true,
    style: { text: 'Residuals', fill: TEXT, font: '18px ' + FONT, align: 'center', verticalAlign: 'middle' }
  });
  graphics.push({
    type: 'text', x: L.titleX, y: L.top + L.h + 35, silent: true,
    style: { text: 'Time/ms', fill: TEXT, font: '17px ' + FONT, align: 'center', verticalAlign: 'middle' }
  });
  graphics.push({
    type: 'text', x: L.letterX, y: L.letterY, silent: true,
    style: { text: panelLetters[p], fill: '#e6e6e6', font: '300 40px "Open Sans", "Noto Sans", sans-serif', align: 'center', verticalAlign: 'middle' }
  });
});

// white page margin at the top and left of the black plot sheet
graphics.push({ type: 'rect', silent: true, z: 100, shape: { x: 0, y: 0, width: 1094, height: 13 }, style: { fill: '#ffffff' } });
graphics.push({ type: 'rect', silent: true, z: 100, shape: { x: 0, y: 0, width: 8, height: 1621 }, style: { fill: '#ffffff' } });

const chart = echarts.init(document.getElementById('chart'), null, { renderer: 'canvas', width: 1094, height: 1621 });
chart.setOption({
  backgroundColor: '#000000',
  animation: false,
  grid: grids,
  xAxis: xAxes,
  yAxis: yAxes,
  series: series,
  graphic: { elements: graphics }
});
</script>
</body>
</html>
